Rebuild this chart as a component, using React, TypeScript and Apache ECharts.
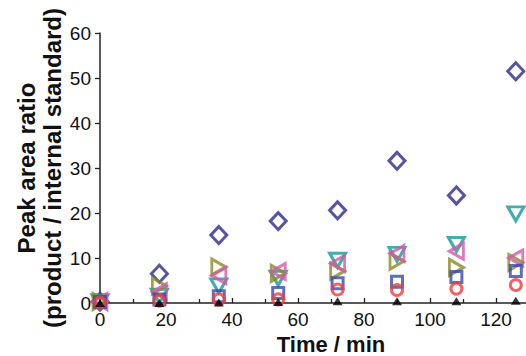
import React, { useEffect, useRef } from "react";
import * as echarts from "echarts";

const times = [0, 18, 36, 54, 72, 90, 108, 126];
const diamondVals = [0.3, 6.5, 15.1, 18.2, 20.6, 31.6, 23.9, 51.5];
const downTriVals = [0.3, 1.5, 3.8, 5.5, 9.5, 10.8, 13.0, 19.8];
const rightTriVals = [0.3, 3.8, 8.0, 6.6, 7.1, 9.3, 7.9, 9.0];
const leftTriVals = [0.3, 2.5, 6.1, 7.0, 8.8, 11.0, 11.5, 10.0];
const squareVals = [0.2, 0.8, 1.5, 2.2, 4.4, 4.7, 5.8, 7.1];
const circleVals = [0.1, 0.5, 0.8, 0.8, 3.0, 2.9, 3.2, 4.0];
const blackTriVals = [0.0, 0.0, 0.1, 0.2, 0.4, 0.4, 0.4, 0.5];

const xTitle = "Time / min";
const yTitle1 = "Peak area ratio";
const yTitle2 = "(product / internal standard)";

const FONT = "'Liberation Sans', Arial, Helvetica, sans-serif";

function pts(vals: number[]) {
  return times.map((t, i) => [t, vals[i]]);
}

export default function App() {
  const ref = useRef<HTMLDivElement>(null);
  useEffect(() => {
    if (!ref.current) return;
    const chart = echarts.init(ref.current, undefined, { renderer: "svg" });
    const open = (
      name: string,
      vals: number[],
      symbol: string,
      size: number | number[],
      color: string,
      rotate = 0,
      bw = 3
    ) => ({
      name,
      type: "scatter",
      data: pts(vals),
      symbol,
      symbolSize: size,
      symbolRotate: rotate,
      itemStyle: { color: "rgba(0,0,0,0)", borderColor: color, borderWidth: bw },
      emphasis: { disabled: true },
    });
    chart.setOption({
      animation: false,
      textStyle: { fontFamily: FONT },
      grid: { left: 100, top: 33, bottom: 53, right: -36, containLabel: false, outerBoundsMode: "none" },
      xAxis: {
        type: "value",
        min: 0,
        max: 140,
        interval: 20,
        name: xTitle,
        nameLocation: "middle",
        nameGap: 29,
        nameTextStyle: { fontFamily: FONT, fontSize: 22, fontWeight: "bold", color: "#111", lineHeight: 22 },
        axisLine: { show: true, onZero: false, lineStyle: { color: "#222", width: 1.5 } },
        axisTick: { show: true, inside: true, length: 5, lineStyle: { color: "#222", width: 1.3 } },
        minorTick: { show: true, splitNumber: 2, length: 4, lineStyle: { color: "#222", width: 1.3 } },
        axisLabel: { fontFamily: FONT, fontSize: 19, color: "#111", margin: 7, showMaxLabel: false },
        splitLine: { show: false },
      },
      yAxis: {
        type: "value",
        min: 0,
        max: 60,
        interval: 10,
        axisLine: { show: true, onZero: false, lineStyle: { color: "#222", width: 1.5 } },
        axisTick: { show: true, inside: false, length: 5, lineStyle: { color: "#222", width: 1.3 } },
        axisLabel: { fontFamily: FONT, fontSize: 19, color: "#111", margin: 9 },
        splitLine: { show: false },
      },
      graphic: [
        {
          type: "text",
          x: 26,
          y: 168,
          rotation: Math.PI / 2,
          style: {
            text: yTitle1,
            fontFamily: FONT,
            fontSize: 24,
            fontWeight: "bold",
            fill: "#111",
            textAlign: "center",
            textVerticalAlign: "middle",
          },
        },
        {
          type: "text",
          x: 52,
          y: 168,
          rotation: Math.PI / 2,
          style: {
            text: yTitle2,
            fontFamily: FONT,
            fontSize: 24,
            fontWeight: "bold",
            fill: "#111",
            textAlign: "center",
            textVerticalAlign: "middle",
          },
        },
      ],
      series: [
        open("diamond", diamondVals, "diamond", [16, 17], "#2B2A8C"),
        open("down", downTriVals, "triangle", [16, 14], "#17999A", 180),
        open("right", rightTriVals, "triangle", [16, 14], "#8C8A22", -90),
        open("left", leftTriVals, "triangle", [16, 14], "#D25AA8", 90),
        open("square", squareVals, "rect", 11, "#3A49AE"),
        open("circle", circleVals, "circle", 11, "#F23B3B"),
        {
          name: "black",
          type: "scatter",
          data: pts(blackTriVals),
          symbol: "triangle",
          symbolSize: [10, 8],
          itemStyle: { color: "#000" },
          emphasis: { disabled: true },
        },
      ],
    });
    return () => chart.dispose();
  }, []);
  return <div ref={ref} style={{ width: 526, height: 356, position: "absolute", left: 0, top: 0 }} />;
}
